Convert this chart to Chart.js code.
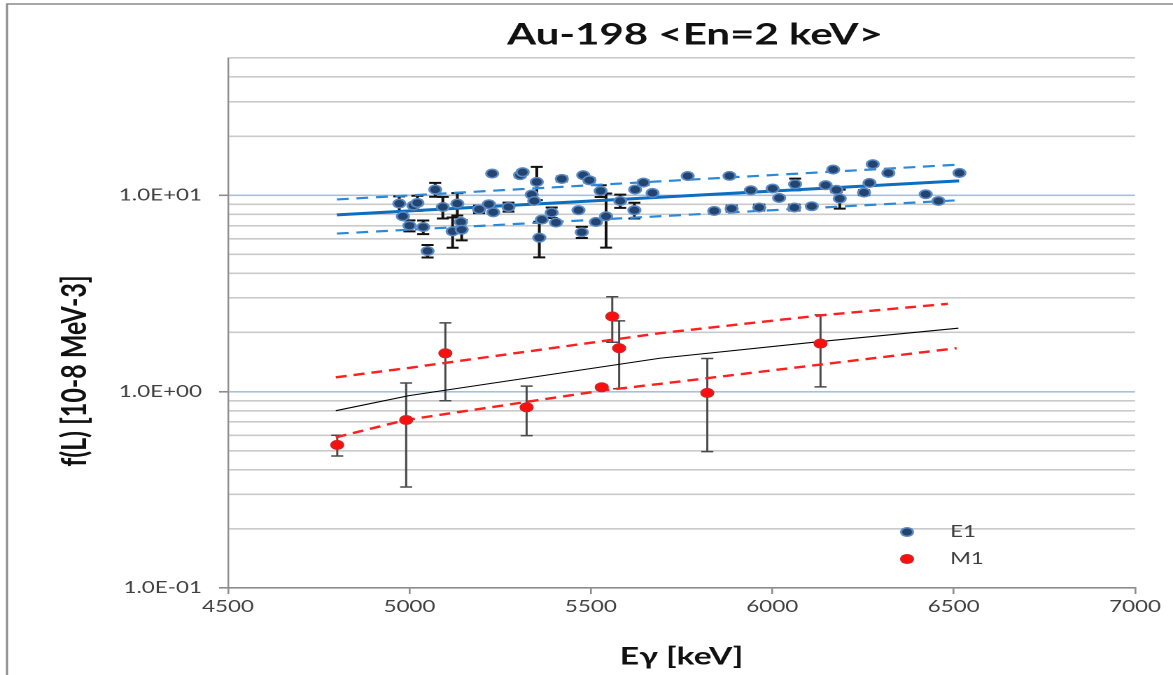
<!DOCTYPE html>
<html>
<head>
<meta charset="utf-8">
<title>Au-198 &lt;En=2 keV&gt;</title>
<script src="https://cdn.jsdelivr.net/npm/chart.js@4.4.1/dist/chart.umd.min.js"></script>
<style>
    html, body { margin: 0; padding: 0; background: #fff; overflow: hidden; }
    /* the plot is drawn narrow and widened, like the exported sheet */
    #wrap { width: 838px; height: 675px; transform: scaleX(1.39976); transform-origin: 0 0; }
</style>
</head>
<body>
<div id="wrap"><canvas id="myChart" width="838" height="675"></canvas></div>
<script>
/* E1 strength points: gamma energy [keV], f(L), error */
let e1X = [4972, 4982, 5000, 5011, 5022, 5038, 5050, 5071, 5092, 5119,
    5132, 5142, 5144, 5192, 5219, 5231, 5228, 5273, 5305, 5312,
    5337, 5351, 5344, 5365, 5358, 5420, 5392, 5404, 5479, 5496,
    5466, 5475, 5527, 5514, 5542, 5581, 5622, 5645, 5620, 5670,
    5767, 5882, 5840, 5888, 5941, 5964, 6001, 6019, 6063, 6061,
    6109, 6147, 6168, 6177, 6186, 6277, 6320, 6268, 6253, 6423,
    6458, 6516];
let e1Y = [9.07, 7.81, 7.00, 8.86, 9.14, 6.89, 5.20, 10.69, 8.71, 6.55,
    9.07, 7.31, 6.68, 8.48, 9.00, 8.19, 12.9, 8.71, 12.65, 13.1,
    10.08, 11.69, 9.35, 7.52, 6.08, 12.11, 8.16, 7.26, 12.65, 11.92,
    8.39, 6.48, 10.52, 7.31, 7.81, 9.35, 10.69, 11.6, 8.39, 10.27,
    12.53, 12.55, 8.32, 8.55, 10.6, 8.66, 10.82, 9.69, 11.38, 8.66,
    8.79, 11.25, 13.52, 10.66, 9.62, 14.39, 12.99, 11.55, 10.32, 10.12,
    9.35, 12.99];
let e1Err = [0.8, 0, 0.45, 0, 0.8, 0.55, 0.38, 0.87, 1.1, 1.15,
    1.18, 0, 0.79, 0.37, 0, 0, 0, 0.46, 0.3, 0.3,
    0, 2.25, 0, 0, 1.25, 0.35, 0.5, 0, 0, 0.3,
    0, 0.42, 0.72, 0, 2.4, 0.72, 0, 0.3, 0.77, 0,
    0, 0, 0, 0.3, 0, 0.3, 0, 0, 0.78, 0.3,
    0, 0, 0, 0.3, 1.07, 0.3, 0, 0, 0.3, 0,
    0, 0];

/* M1 strength points */
let m1X = [4801, 4991, 5099, 5323, 5530, 5559, 5578, 5821, 6133];
let m1Y = [0.535, 0.717, 1.568, 0.832, 1.052, 2.414, 1.664, 0.985, 1.758];
let m1Err = [0.065, 0.39, 0.67, 0.235, 0.03, 0.63, 0.63, 0.49, 0.70];

/* E1 fit with its band */
let e1FitX = [4800, 6515];
let e1FitY = [7.94, 11.83];
let e1UpX = [4800, 6510];
let e1UpY = [9.52, 14.31];
let e1LowX = [4800, 6510];
let e1LowY = [6.38, 9.43];

/* M1 fit with its band */
let m1FitX = [4797, 4999, 5690, 6132, 6513];
let m1FitY = [0.800, 0.954, 1.479, 1.799, 2.104];
let m1UpX = [4797, 4999, 5690, 6131, 6484];
let m1UpY = [1.183, 1.321, 1.984, 2.443, 2.802];
let m1LowX = [4797, 4990, 5530, 5690, 6508];
let m1LowY = [0.585, 0.717, 1.012, 1.095, 1.664];

/* axis ticks */
let xTickStep = 500;
let yLabelValues = [0.1, 1, 10];
let yTickLabels = ['1.0E-01', '1.0E+00', '1.0E+01'];
let yGridValues = [];
yLabelValues.forEach(d => {
    for (let m = 1; m <= 9; m++) {
        if (d * m <= 50) yGridValues.push(+(d * m).toPrecision(2));
    }
});

let toPoints = (xs, ys) => xs.map((x, i) => ({ x: x, y: ys[i] }));

let markerR = 4.3;
let e1Fill = '#23446f';
let e1Edge = '#5a89c4';
let m1Fill = '#ff0d0d';
let m1Edge = '#d42222';

/* vertical error bars with caps, under the markers */
let errorBars = {
    id: 'errorBars',
    beforeDatasetsDraw(chart) {
        let ctx = chart.ctx;
        let yScale = chart.scales.y;
        chart.data.datasets.forEach((ds, i) => {
            if (!ds.errors) return;
            let meta = chart.getDatasetMeta(i);
            ctx.save();
            ctx.strokeStyle = ds.errorColor;
            ctx.lineWidth = ds.errorWidth;
            meta.data.forEach((pt, j) => {
                let e = ds.errors[j];
                if (!e) return;
                let v = ds.data[j].y;
                let top = yScale.getPixelForValue(v + e);
                let bot = yScale.getPixelForValue(Math.max(v - e, 0.1));
                ctx.beginPath();
                ctx.moveTo(pt.x, top);
                ctx.lineTo(pt.x, bot);
                ctx.moveTo(pt.x - markerR, top);
                ctx.lineTo(pt.x + markerR, top);
                ctx.moveTo(pt.x - markerR, bot);
                ctx.lineTo(pt.x + markerR, bot);
                ctx.stroke();
            });
            ctx.restore();
        });
    }
};

/* frame, title, y title and the legend inside the plot */
let chartTexts = {
    id: 'chartTexts',
    afterDraw(chart) {
        let ctx = chart.ctx;
        ctx.save();
        ctx.strokeStyle = '#8a8a8a';
        ctx.lineWidth = 1.5;
        ctx.strokeRect(5, 4, 2000, 2000);

        ctx.fillStyle = '#111';
        ctx.textAlign = 'center';
        ctx.textBaseline = 'middle';
        ctx.font = 'bold 30px Lato';
        ctx.fillText('Au-198 <En=2 keV>', 496.5, 35);

        ctx.save();
        ctx.translate(53.6, 371);
        ctx.rotate(-Math.PI / 2);
        ctx.font = 'bold 25px Lato';
        ctx.fillText('f(L) [10-8 MeV-3]', 0, 0);
        ctx.restore();

        let entries = [
            { label: 'E1', fill: e1Fill, edge: e1Edge, y: 532 },
            { label: 'M1', fill: m1Fill, edge: m1Edge, y: 559 }
        ];
        ctx.font = '16px Lato';
        ctx.textAlign = 'left';
        entries.forEach(en => {
            ctx.beginPath();
            ctx.arc(648, en.y, markerR, 0, Math.PI * 2);
            ctx.fillStyle = en.fill;
            ctx.fill();
            ctx.lineWidth = 1.5;
            ctx.strokeStyle = en.edge;
            ctx.stroke();
            ctx.fillStyle = '#404040';
            ctx.fillText(en.label, 678.7, en.y);
        });
        ctx.restore();
    }
};

let fitLine = (label, xs, ys, color, width, dash, order) => ({
    label: label,
    data: toPoints(xs, ys),
    showLine: true,
    borderColor: color,
    borderWidth: width,
    borderDash: dash,
    pointRadius: 0,
    fill: false,
    order: order
});

let config = {
    type: 'scatter',
    data: {
        datasets: [
            {
                label: 'E1',
                data: toPoints(e1X, e1Y),
                errors: e1Err,
                errorColor: '#111',
                errorWidth: 2,
                pointRadius: markerR,
                backgroundColor: e1Fill,
                borderColor: e1Edge,
                borderWidth: 1.5,
                order: 0
            },
            {
                label: 'M1',
                data: toPoints(m1X, m1Y),
                errors: m1Err,
                errorColor: '#4a4a4a',
                errorWidth: 1.5,
                pointRadius: markerR,
                backgroundColor: m1Fill,
                borderColor: m1Edge,
                borderWidth: 1.5,
                order: 1
            },
            fitLine('E1 fit', e1FitX, e1FitY, '#0a6fc2', 3, [], 2),
            fitLine('E1 upper', e1UpX, e1UpY, '#2b8ad8', 2.2, [8.5, 5.5], 3),
            fitLine('E1 lower', e1LowX, e1LowY, '#2b8ad8', 2.2, [8.5, 5.5], 3),
            fitLine('M1 fit', m1FitX, m1FitY, '#000', 1.1, [], 2),
            fitLine('M1 upper', m1UpX, m1UpY, '#ff1f1f', 2.4, [7.9, 5], 3),
            fitLine('M1 lower', m1LowX, m1LowY, '#ff1f1f', 2.4, [7.9, 5], 3)
        ]
    },
    options: {
        responsive: false,
        devicePixelRatio: 2,
        animation: false,
        layout: { padding: { top: 58, right: 27.1, left: 0, bottom: 0 } },
        plugins: {
            legend: { display: false },
            tooltip: { enabled: false },
            title: { display: false }
        },
        scales: {
            x: {
                type: 'linear',
                min: 4500,
                max: 7000,
                afterFit: scale => { scale.height = 87; },
                ticks: {
                    stepSize: xTickStep,
                    callback: v => String(v),
                    font: { family: 'Lato', size: 16 },
                    color: '#404040',
                    padding: 3.4,
                    maxRotation: 0
                },
                grid: { drawOnChartArea: false, tickLength: 6, tickColor: '#8c8c8c', lineWidth: 1.3 },
                border: { color: '#8c8c8c', width: 1.6 },
                title: {
                    display: true,
                    text: 'Eγ [keV]',
                    font: { family: 'Lato', size: 24, weight: 'bold' },
                    color: '#111',
                    padding: { top: 0, bottom: 3.6 }
                }
            },
            y: {
                type: 'logarithmic',
                min: 0.1,
                max: 50,
                afterFit: scale => { scale.width = 162.9; },
                afterBuildTicks: scale => {
                    scale.ticks = yGridValues.map(v => ({ value: v }));
                },
                ticks: {
                    autoSkip: false,
                    callback: v => {
                        let k = yLabelValues.indexOf(v);
                        return k < 0 ? '' : yTickLabels[k];
                    },
                    font: { family: 'Lato', size: 16 },
                    color: '#404040',
                    padding: 12.2
                },
                grid: {
                    color: c => {
                        let v = c.tick ? c.tick.value : 0;
                        if (v === 0.1) return 'rgba(0,0,0,0)';
                        if (v === 1 || v === 10) return '#a8c0dd';
                        return '#cacaca';
                    },
                    lineWidth: 1.6,
                    tickLength: 6.4,
                    tickColor: c => {
                        let v = c.tick ? c.tick.value : 0;
                        return yLabelValues.indexOf(v) < 0 ? 'rgba(0,0,0,0)' : '#8c8c8c';
                    }
                },
                border: { color: '#8c8c8c', width: 1.2 }
            }
        }
    },
    plugins: [errorBars, chartTexts]
};

let myChart = new Chart(document.querySelector('#myChart'), config);
</script>
</body>
</html>
